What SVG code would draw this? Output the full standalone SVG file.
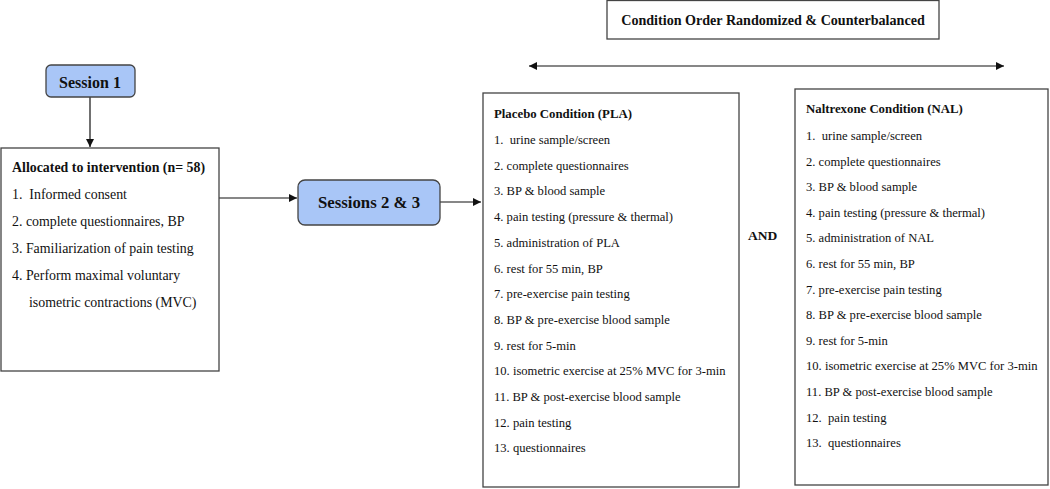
<svg xmlns="http://www.w3.org/2000/svg" width="1050" height="489" viewBox="0 0 1050 489" font-family="'Liberation Serif', 'Times New Roman', serif" xml:space="preserve">
<defs>
<style>
text{font-family:'Liberation Serif','Times New Roman',serif;fill:#111;font-size:12.6px;white-space:pre}
.b{font-weight:bold}
.l{font-size:13.9px}
.box{fill:#fff;stroke:#444;stroke-width:1.3}
.sess{fill:#a9c6f7;stroke:#444;stroke-width:1.3}
.ln{stroke:#111;stroke-width:1.2;fill:none}
</style>
<marker id="ah" viewBox="0 0 10 10" refX="10" refY="5" markerWidth="8" markerHeight="8" markerUnits="userSpaceOnUse" orient="auto-start-reverse"><path d="M0,0 L10,5 L0,10 z" fill="#111"/></marker>
</defs>
<g id="connectors">
<line class="ln" x1="90" y1="97" x2="90" y2="147" marker-end="url(#ah)"/>
<line class="ln" x1="219" y1="198" x2="297" y2="198" marker-end="url(#ah)"/>
<line class="ln" x1="440" y1="202" x2="481" y2="202" marker-end="url(#ah)"/>
<line class="ln" x1="529" y1="66" x2="1004" y2="66" marker-start="url(#ah)" marker-end="url(#ah)"/>
</g>
<g id="order">
<rect class="box" x="607" y="0.5" width="332" height="38.5"/>
<text class="b" x="773" y="25" text-anchor="middle" style="font-size:14.1px">Condition Order Randomized &amp; Counterbalanced</text>
</g>
<g id="session1">
<rect class="sess" x="46" y="65" width="89" height="32" rx="5"/>
<text class="b" x="90" y="88" text-anchor="middle" style="font-size:16px">Session 1</text>
</g>
<g id="allocated">
<rect class="box" x="1" y="148" width="218" height="223"/>
<text class="b l" x="12" y="172">Allocated to intervention (n= 58)</text>
<text class="l" x="12" y="199">1.  Informed consent</text>
<text class="l" x="12" y="226">2. complete questionnaires, BP</text>
<text class="l" x="12" y="253">3. Familiarization of pain testing</text>
<text class="l" x="12" y="280">4. Perform maximal voluntary</text>
<text class="l" x="29" y="307">isometric contractions (MVC)</text>
</g>
<g id="sessions23">
<rect class="sess" x="298" y="180" width="142" height="45" rx="7"/>
<text class="b" x="369" y="208" text-anchor="middle" style="font-size:16.8px">Sessions 2 &amp; 3</text>
</g>
<g id="placebo">
<rect class="box" x="483" y="93" width="256" height="394"/>
<text class="b" x="494" y="118" style="font-size:12.8px">Placebo Condition (PLA)</text>
<text x="494" y="144">1.  urine sample/screen</text>
<text x="494" y="169.7">2. complete questionnaires</text>
<text x="494" y="195.4">3. BP &amp; blood sample</text>
<text x="494" y="221.1">4. pain testing (pressure &amp; thermal)</text>
<text x="494" y="246.8">5. administration of PLA</text>
<text x="494" y="272.5">6. rest for 55 min, BP</text>
<text x="494" y="298.2">7. pre-exercise pain testing</text>
<text x="494" y="323.9">8. BP &amp; pre-exercise blood sample</text>
<text x="494" y="349.6">9. rest for 5-min</text>
<text x="494" y="375.3">10. isometric exercise at 25% MVC for 3-min</text>
<text x="494" y="401">11. BP &amp; post-exercise blood sample</text>
<text x="494" y="426.7">12. pain testing</text>
<text x="494" y="452.4">13. questionnaires</text>
</g>
<g id="and">
<text class="b" x="748" y="240" style="font-size:13.5px">AND</text>
</g>
<g id="naltrexone">
<rect class="box" x="795" y="89" width="253" height="396"/>
<text class="b" x="806" y="113" style="font-size:12.8px">Naltrexone Condition (NAL)</text>
<text x="806" y="140">1.  urine sample/screen</text>
<text x="806" y="165.6">2. complete questionnaires</text>
<text x="806" y="191.2">3. BP &amp; blood sample</text>
<text x="806" y="216.8">4. pain testing (pressure &amp; thermal)</text>
<text x="806" y="242.4">5. administration of NAL</text>
<text x="806" y="268">6. rest for 55 min, BP</text>
<text x="806" y="293.6">7. pre-exercise pain testing</text>
<text x="806" y="319.2">8. BP &amp; pre-exercise blood sample</text>
<text x="806" y="344.8">9. rest for 5-min</text>
<text x="806" y="370.4">10. isometric exercise at 25% MVC for 3-min</text>
<text x="806" y="396">11. BP &amp; post-exercise blood sample</text>
<text x="806" y="421.6">12.  pain testing</text>
<text x="806" y="447.2">13.  questionnaires</text>
</g>
</svg>
